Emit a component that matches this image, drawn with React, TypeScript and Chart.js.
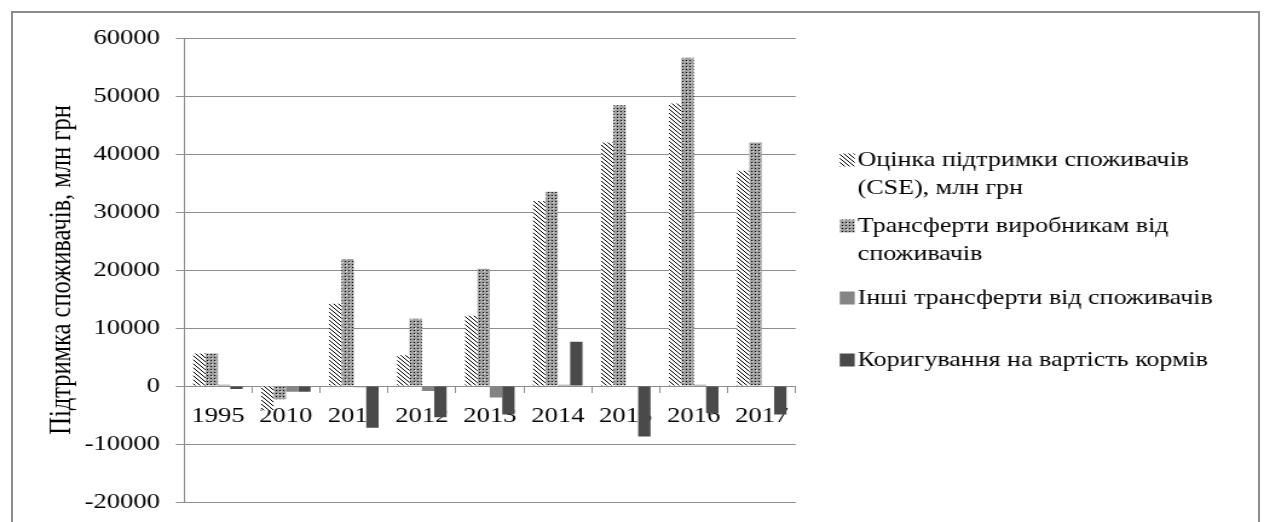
import React, { useEffect, useRef } from 'react';
import { Chart, registerables } from 'chart.js';

Chart.register(...registerables);

// ---- data ----
const categories = ['1995', '2010', '2011', '2012', '2013', '2014', '2015', '2016', '2017'];
const cseValues = [5600, -4200, 14200, 5300, 12100, 31900, 42000, 48700, 37100];
const producerTransfers = [5600, -2300, 21900, 11600, 20200, 33500, 48400, 56600, 42000];
const otherTransfers = [200, -1000, -200, -850, -2000, 200, 100, 200, 100];
const feedAdjustment = [-500, -1000, -7200, -5400, -4900, 7650, -8700, -4700, -4900];
const seriesLabels = [
  'Оцінка підтримки споживачів\n(CSE), млн грн',
  'Трансферти виробникам від\nспоживачів',
  'Інші трансферти від споживачів',
  'Коригування на вартість кормів',
];
const yTickValues = [-20000, -10000, 0, 10000, 20000, 30000, 40000, 50000, 60000];
const yTitle = 'Підтримка споживачів, млн грн';

// ---- layout ----
const W = 1264;
const H = 522;
const S = 1.21; // horizontal stretch of the reference
const CW = Math.round(W / S);
const px = (x: number) => x / S;
const FONT = "'Liberation Serif', 'Times New Roman', serif";
const GRID = '#8e8e8e';

function makeHatch(): CanvasPattern {
  const c = document.createElement('canvas');
  c.width = 4;
  c.height = 4;
  const g = c.getContext('2d')!;
  g.fillStyle = '#ffffff';
  g.fillRect(0, 0, 4, 4);
  g.fillStyle = '#000000';
  for (let i = 0; i < 4; i++) g.fillRect(i, i, 1, 1);
  return g.createPattern(c, 'repeat')!;
}

function makeSphere(): CanvasPattern {
  const c = document.createElement('canvas');
  c.width = 6;
  c.height = 6;
  const g = c.getContext('2d')!;
  g.fillStyle = '#a0a0a0';
  g.fillRect(0, 0, 6, 6);
  g.fillStyle = '#e0e0e0';
  g.fillRect(1, 4, 1, 1);
  g.fillRect(4, 1, 1, 1);
  g.fillStyle = '#000000';
  g.fillRect(0, 0, 1, 1);
  g.fillRect(3, 3, 1, 1);
  g.fillRect(0, 3, 1, 1);
  g.fillRect(3, 0, 1, 1);
  return g.createPattern(c, 'repeat')!;
}

const legendPlugin = {
  id: 'sideLegend',
  afterDraw(chart: any) {
    const ctx = chart.ctx as CanvasRenderingContext2D;
    const centres = [160, 226, 298, 360];
    ctx.save();
    ctx.font = `21.5px ${FONT}`;
    ctx.textBaseline = 'middle';
    ctx.textAlign = 'left';
    chart.data.datasets.forEach((ds: any, i: number) => {
      const y = centres[i];
      ctx.fillStyle = ds.backgroundColor;
      ctx.fillRect(px(840), y - 6.5, px(15), 13);
      ctx.fillStyle = '#000000';
      seriesLabels[i].split('\n').forEach((line, j) => {
        ctx.fillText(line, px(858), y + j * 28.5);
      });
    });
    ctx.restore();
  },
};

export default function App() {
  const ref = useRef<HTMLCanvasElement>(null);

  useEffect(() => {
    const hatch = makeHatch();
    const sphere = makeSphere();
    const chart = new Chart(ref.current!, {
      type: 'bar',
      data: {
        labels: categories,
        datasets: [
          { label: seriesLabels[0].replace('\n', ' '), data: cseValues, backgroundColor: hatch as any },
          { label: seriesLabels[1].replace('\n', ' '), data: producerTransfers, backgroundColor: sphere as any },
          { label: seriesLabels[2], data: otherTransfers, backgroundColor: '#848484' },
          { label: seriesLabels[3], data: feedAdjustment, backgroundColor: '#4a4a4a' },
        ],
      },
      options: {
        responsive: false,
        animation: false,
        devicePixelRatio: 1,
        layout: {
          padding: { left: 0, top: 38, bottom: 20, right: CW - px(796) },
        },
        datasets: {
          bar: { categoryPercentage: 4 / 5.5, barPercentage: 1, borderWidth: 0 },
        },
        plugins: {
          legend: { display: false },
          tooltip: { enabled: false },
        },
        scales: {
          x: {
            type: 'category',
            position: { y: 0 } as any,
            afterFit: (s: any) => {
              s.height = 0;
              s.paddingTop = 0;
              s.paddingBottom = 0;
            },
            grid: {
              drawOnChartArea: false,
              drawTicks: true,
              tickLength: 6,
              offset: true,
              color: GRID,
            },
            border: { display: true, color: GRID, width: 1 },
            ticks: {
              color: '#000000',
              padding: 11,
              maxRotation: 0,
              autoSkip: false,
              font: { family: FONT, size: 22 },
            },
          },
          y: {
            min: -20000,
            max: 60000,
            afterBuildTicks: (s: any) => {
              s.ticks = yTickValues.map((v) => ({ value: v }));
            },
            afterFit: (s: any) => {
              s.width = px(184);
              s.paddingTop = 0;
              s.paddingBottom = 0;
            },
            grid: { color: GRID, lineWidth: 1, tickLength: px(8), drawTicks: true },
            border: { display: true, color: GRID, width: 1 },
            ticks: {
              color: '#000000',
              padding: px(16),
              font: { family: FONT, size: 22 },
              callback: (v: any) => String(v),
            },
            title: {
              display: true,
              text: yTitle,
              color: '#000000',
              font: { family: FONT, size: 24.5 },
              padding: { top: 36.5, bottom: 0 },
            },
          },
        },
      },
      plugins: [legendPlugin],
    });
    return () => chart.destroy();
  }, []);

  return (
    <div
      style={{
        position: 'fixed',
        left: 0,
        top: 0,
        width: W,
        height: H,
        overflow: 'hidden',
        background: '#ffffff',
      }}
    >
      <canvas
        ref={ref}
        width={CW}
        height={H}
        style={{ position: 'absolute', left: 0, top: 0, width: W, height: H }}
      />
      <div
        style={{
          position: 'absolute',
          left: 11,
          top: 11,
          width: 1249,
          height: 600,
          border: '2px solid #8c8c8c',
          boxSizing: 'border-box',
          pointerEvents: 'none',
        }}
      />
    </div>
  );
}
